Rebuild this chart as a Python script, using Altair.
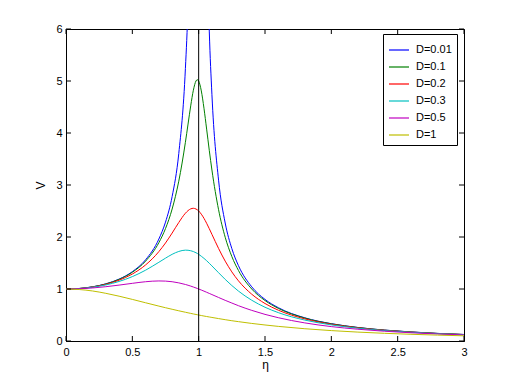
import altair as alt
import pandas as pd

# values (eta on x, V on y)
eta = [0, 0.1, 0.2, 0.3, 0.4, 0.5, 0.6, 0.7, 0.75, 0.8, 0.85, 0.9, 0.92, 0.94,
       0.96, 0.98, 0.99, 1.0, 1.02, 1.04, 1.06, 1.08, 1.1, 1.15, 1.2, 1.25, 1.3,
       1.4, 1.5, 1.6, 1.8, 2.0, 2.2, 2.4, 2.6, 2.8, 3.0]

v_d001 = [1.0, 1.010, 1.042, 1.099, 1.190, 1.333, 1.562, 1.961, 2.286, 2.778, 3.604,
          5.240, 6.46, 8.48, 12.39, 22.6, 40.0, 50.0, 22.1, 11.87, 7.97, 5.96, 4.736,
          3.093, 2.269, 1.777, 1.449, 1.042, 0.800, 0.641, 0.446, 0.333, 0.260,
          0.210, 0.174, 0.146, 0.125]
v_d01 = [1.0, 1.010, 1.041, 1.097, 1.185, 1.322, 1.536, 1.891, 2.162, 2.538, 3.073,
         3.821, 4.172, 4.522, 4.822, 5.001, 5.025, 5.000, 4.809, 4.476, 4.075, 3.667,
         3.288, 2.525, 1.995, 1.625, 1.356, 1.000, 0.778, 0.628, 0.441, 0.330,
         0.259, 0.209, 0.173, 0.146, 0.125]
v_d02 = [1.0, 1.009, 1.038, 1.090, 1.169, 1.288, 1.463, 1.719, 1.885, 2.076, 2.279,
         2.457, 2.508, 2.541, 2.552, 2.538, 2.522, 2.500, 2.439, 2.359, 2.264, 2.160,
         2.051, 1.780, 1.536, 1.329, 1.157, 0.900, 0.721, 0.593, 0.425, 0.322,
         0.254, 0.206, 0.171, 0.144, 0.124]
v_d03 = [1.0, 1.008, 1.034, 1.078, 1.145, 1.238, 1.362, 1.514, 1.593, 1.667, 1.722,
         1.747, 1.745, 1.736, 1.720, 1.697, 1.683, 1.667, 1.630, 1.589, 1.544, 1.495,
         1.444, 1.313, 1.185, 1.067, 0.960, 0.784, 0.649, 0.546, 0.402, 0.310,
         0.246, 0.201, 0.168, 0.142, 0.122]
v_d05 = [1.0, 1.005, 1.020, 1.044, 1.075, 1.109, 1.140, 1.155, 1.152, 1.140, 1.118,
         1.087, 1.072, 1.056, 1.038, 1.020, 1.010, 1.000, 0.980, 0.959, 0.937, 0.915,
         0.893, 0.837, 0.782, 0.730, 0.679, 0.589, 0.512, 0.448, 0.348, 0.277,
         0.226, 0.188, 0.158, 0.135, 0.117]
v_d1 = [1.0, 0.990, 0.962, 0.917, 0.862, 0.800, 0.735, 0.671, 0.640, 0.610, 0.581,
        0.553, 0.542, 0.531, 0.520, 0.510, 0.505, 0.500, 0.490, 0.480, 0.471, 0.462,
        0.453, 0.431, 0.410, 0.390, 0.372, 0.338, 0.308, 0.281, 0.236, 0.200,
        0.171, 0.148, 0.129, 0.113, 0.100]

labels = ["D=0.01", "D=0.1", "D=0.2", "D=0.3", "D=0.5", "D=1"]
colors = ["#0000ff", "#008000", "#ff0000", "#00bfbf", "#bf00bf", "#bfbf00"]
series = [v_d001, v_d01, v_d02, v_d03, v_d05, v_d1]

x_ticks = [0, 0.5, 1, 1.5, 2, 2.5, 3]
y_ticks = [0, 1, 2, 3, 4, 5, 6]
resonance = [1]

rows = []
for k, (lab, vals) in enumerate(zip(labels, series)):
    for e, v in zip(eta, vals):
        rows.append({"eta": e, "V": v, "D": lab})
df = pd.DataFrame(rows)

W, H = 398, 312
FONT = "Liberation Sans"

x_scale = alt.Scale(domain=[0, 3], nice=False, zero=False)
y_scale = alt.Scale(domain=[0, 6], nice=False)
x_axis = alt.Axis(title="η", values=x_ticks, ticks=False, grid=False, labelFlush=False,
                  labelPadding=5, titleY=27, titleBaseline="alphabetic",
                  titleFontWeight="normal", titleFontSize=12, format="~g")
y_axis = alt.Axis(title="V", values=y_ticks, ticks=False, grid=False, labelFlush=False,
                  labelPadding=4, titleX=-26, titleY=H / 2,
                  titleAlign="center", titleBaseline="middle",
                  titleFontWeight="normal", titleFontSize=12)


def X(field):
    return alt.X(field, type="quantitative", scale=x_scale, axis=x_axis, title="η")


def Y(field):
    return alt.Y(field, type="quantitative", scale=y_scale, axis=y_axis, title="V")


lines = alt.Chart(df).mark_line(clip=True, strokeWidth=1, interpolate="monotone").encode(
    x=X("eta"),
    y=Y("V"),
    color=alt.Color("D:N", sort=labels, scale=alt.Scale(domain=labels, range=colors),
                    legend=alt.Legend(title=None, orient="none", legendX=317, legendY=5,
                                      symbolType="stroke", symbolSize=400,
                                      symbolStrokeWidth=1.2, labelFontSize=11,
                                      labelFont=FONT, fillColor="white",
                                      strokeColor="black", padding=5, rowPadding=1,
                                      labelOffset=6)),
)

vline = alt.Chart(pd.DataFrame({"x": resonance})).mark_rule(color="black", strokeWidth=1).encode(
    x=X("x"), y=alt.value(0), y2=alt.value(H)
)

xt = pd.DataFrame({"t": x_ticks})
yt = pd.DataFrame({"t": y_ticks})
TL = 5
tick_b = alt.Chart(xt).mark_rule(color="black").encode(
    x=X("t"), y=alt.value(H), y2=alt.value(H - TL))
tick_t = alt.Chart(xt).mark_rule(color="black").encode(
    x=X("t"), y=alt.value(0), y2=alt.value(TL))
tick_l = alt.Chart(yt).mark_rule(color="black").encode(
    y=Y("t"), x=alt.value(0), x2=alt.value(TL))
tick_r = alt.Chart(yt).mark_rule(color="black").encode(
    y=Y("t"), x=alt.value(W), x2=alt.value(W - TL))

chart = alt.layer(lines, vline, tick_b, tick_t, tick_l, tick_r).properties(
    width=W, height=H,
    autosize=alt.AutoSizeParams(type="none"),
    padding={"left": 58, "top": 21, "right": 40, "bottom": 35},
    background="white",
).configure_view(stroke="black", strokeWidth=1).configure_axis(
    domainColor="black", labelColor="black", titleColor="black",
    labelFont=FONT, titleFont=FONT, labelFontSize=11, domainWidth=1,
)

chart.save("out.html", embed_options={"renderer": "svg", "actions": False})
